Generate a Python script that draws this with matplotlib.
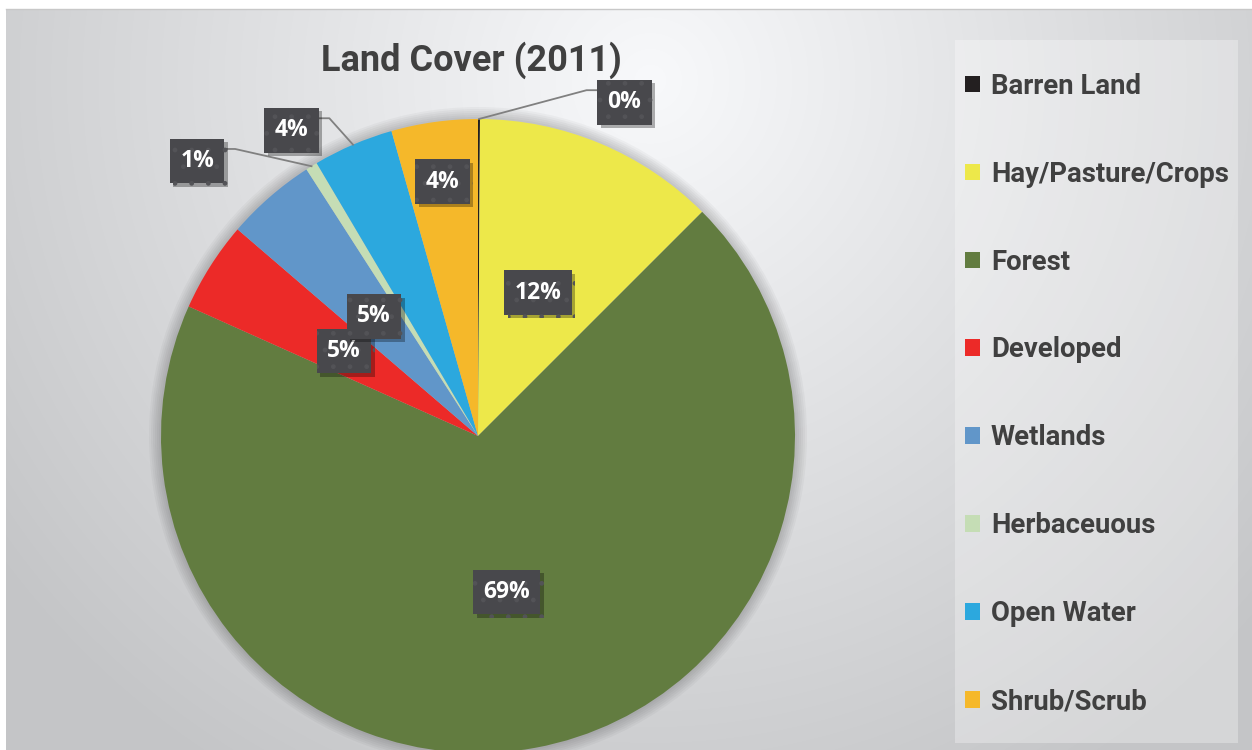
import matplotlib.pyplot as plt
import matplotlib.patheffects as pe
from matplotlib.patches import Rectangle, Circle
import numpy as np

# land cover shares (percent), clockwise from 12 o'clock
categories = ['Barren Land', 'Hay/Pasture/Crops', 'Forest', 'Developed',
              'Wetlands', 'Herbaceuous', 'Open Water', 'Shrub/Scrub']
shares = [0.1, 12.4, 69.2, 4.6, 4.6, 0.6, 4.1, 4.4]
colors = ['#231f20', '#ede84a', '#627c40', '#ec2a28',
          '#6196c9', '#c5ddb5', '#2ca8de', '#f5b82a']
chart_title = 'Land Cover (2011)'

# label placement: (distance / radius, clock angle in degrees or None = slice middle, leader side)
label_layout = [
    (1.15, 23.7, 'right'),
    (0.49, None, None),
    (0.50, None, None),
    (0.50, None, None),
    (0.50, None, None),
    (1.24, 314.4, 'left'),
    (1.13, 328.6, 'left'),
    (0.81, None, None),
]

W, H = 1252, 750
cx, cy, R = 478, 314, 317
text_gray = '#404040'
box_gray = '#48484c'

fig = plt.figure(figsize=(W / 100, H / 100), dpi=100)
ax = fig.add_axes([0, 0, 1, 1])

# soft radial background
top, left = 9, 6
yy, xx = np.mgrid[0:H - top, 0:W - left]
d = np.hypot(xx + left - 650, yy + top - 80)
v = 248 - 52 * np.clip(d / 820, 0, 1)
bg = np.dstack([v, v + 1, v + 3]) / 255
ax.imshow(np.clip(bg, 0, 1), extent=(left, W, 0, H - top), origin='upper', zorder=0)
ax.plot([left, W], [H - top, H - top], color='#c8c8c8', lw=1, zorder=1)

# legend panel
ax.add_patch(Rectangle((955, H - 743), 283, 703, fc='white', alpha=0.3, lw=0, zorder=1))

# faint shadow around the pie
for k in range(12, 0, -2):
    ax.add_patch(Circle((cx, cy), R + k, fc='black', alpha=0.03, lw=0, zorder=1))

wedges, _ = ax.pie(shares, colors=colors, startangle=90, counterclock=False,
                   center=(cx, cy), radius=R, wedgeprops=dict(linewidth=0, zorder=2))

def clock_to_xy(frac, clock_deg):
    a = np.radians(90 - clock_deg)
    return cx + frac * R * np.cos(a), cy + frac * R * np.sin(a)

for w, val, (frac, ang, side) in zip(wedges, shares, label_layout):
    mid = (w.theta1 + w.theta2) / 2
    mid_clock = 90 - mid
    pos_clock = mid_clock if ang is None else ang
    tx, ty = clock_to_xy(frac, pos_clock)
    t = ax.text(tx, ty, f'{val:.0f}%', ha='center', va='center', color='white',
                fontsize=16.5, fontweight='bold', family='Open Sans', zorder=5,
                bbox=dict(boxstyle='square,pad=0.45', fc=box_gray, ec='#535357',
                          lw=0, hatch='.'))
    t.get_bbox_patch().set_path_effects(
        [pe.SimplePatchShadow(offset=(2.5, -2.5), shadow_rgbFace='k', alpha=0.3), pe.Normal()])
    if side is not None:
        ex, ey = clock_to_xy(1.0, mid_clock)
        half_w = 25
        if side == 'right':
            ax_x = tx - half_w
            elbow = ax_x - 13
        else:
            ax_x = tx + half_w
            elbow = ax_x + 13
        ay = ty + 12
        ax.plot([ex, elbow, ax_x], [ey, ay, ay], color='#808080', lw=1.3, zorder=4)

ax.text(471, H - 60, chart_title, ha='center', va='center', fontsize=26,
        fontweight='bold', family='Roboto', color=text_gray, zorder=5)

leg = ax.legend(wedges, categories, loc='upper left', bbox_to_anchor=(951, H - 59),
                bbox_transform=ax.transData, frameon=False, prop=dict(family='Roboto', weight='bold', size=19.8),
                labelcolor=text_gray, handlelength=0.55, handleheight=0.55,
                handletextpad=0.4, labelspacing=2.215, borderpad=0)

ax.set_xlim(0, W)
ax.set_ylim(0, H)
ax.set_aspect('auto')
ax.axis('off')

fig.savefig('out.png', dpi=100, facecolor='white')
